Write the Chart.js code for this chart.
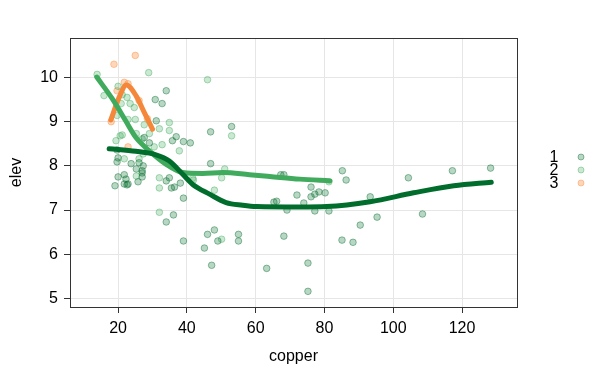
<!DOCTYPE html>
<html><head><meta charset="utf-8">
<script src="https://cdn.jsdelivr.net/npm/chart.js@4/dist/chart.umd.min.js"></script>
<style>html,body{margin:0;padding:0;background:#fff;}canvas{display:block;}</style>
</head><body>
<canvas id="c" width="603" height="379"></canvas>
<script>
// ---- data ----
const groups = ["1", "2", "3"];
const xTicks = [20, 40, 60, 80, 100, 120];
const yTicks = [5, 6, 7, 8, 9, 10];

const cu1 = [34.0,30.8,32.8,31.1,46.9,53.0,27.6,29.1,35.8,36.9,39.0,41.0,19.7,20.0,19.7,23.8,25.3,26.1,46.9,20.0,21.8,22.3,27.0,27.0,27.0,34.9,67.3,68.2,19.1,21.8,22.6,25.8,34.0,35.5,36.4,38.1,39.0,36.1,34.0,39.0,45.1,46.0,48.0,49.0,55.0,55.0,47.2,63.2,65.3,66.1,69.1,72.0,68.2,85.2,86.3,76.1,76.1,77.2,78.4,80.2,74.0,77.2,81.3,75.2,75.2,85.1,88.3,90.4,93.3,95.3,104.4,108.5,117.2,128.3,22.9,27.3];
const el1 = [9.70,9.50,9.41,9.02,8.77,8.89,8.64,8.52,8.57,8.66,8.55,8.52,8.36,8.18,8.09,8.05,7.93,8.07,8.05,7.75,7.80,7.70,7.84,7.75,7.89,7.73,7.80,7.80,7.55,7.59,7.57,7.64,7.66,7.50,7.52,7.61,7.27,6.89,6.73,6.30,6.14,6.45,6.55,6.30,6.45,6.30,5.75,5.68,7.18,7.20,7.00,7.34,6.41,7.89,7.68,7.52,7.30,7.36,7.41,7.39,7.16,6.98,6.98,5.80,5.16,6.32,6.27,6.66,7.30,6.84,7.73,6.91,7.89,7.95,7.59,8.00];

const cu2 = [13.9,28.9,46.0,20.0,15.9,21.2,23.5,20.9,22.6,24.7,32.0,34.9,34.9,53.0,19.7,22.9,25.0,27.6,29.1,21.2,20.6,25.3,27.0,30.5,32.8,37.8,19.4,21.8,26.1,27.3,51.0,25.3,32.0,32.0,41.9,48.0,50.1,32.0,50.1,81.3,41.7];
const el2 = [10.07,10.11,9.95,9.80,9.59,9.61,9.41,9.41,9.55,9.32,8.84,8.98,8.80,8.68,9.14,9.05,9.05,8.93,8.73,8.70,8.68,8.73,8.61,8.43,8.48,8.34,8.57,8.16,8.16,8.27,7.93,7.77,7.73,7.50,7.68,7.45,7.73,6.95,6.34,7.64,7.72];

const cu3 = [18.8,25.0,21.8,22.9,19.7,18.0,22.9,26.1,28.5];
const el3 = [10.30,10.50,9.89,9.86,9.70,9.00,8.43,9.48,9.07];

// smooth (loess) curves
const sm1x = [17.4,25.2,31.0,34.9,38.8,41.7,46.6,51.4,56.2,60.2,72.8,80.6,93.3,105.9,117.6,128.5];
const sm1y = [8.39,8.33,8.25,8.11,7.81,7.58,7.36,7.17,7.11,7.08,7.07,7.08,7.19,7.39,7.55,7.63];
const sm2x = [13.8,18.3,22.2,25.2,29.1,33.9,38.8,44.6,50.5,58.2,64.1,72.8,81.6];
const sm2y = [10.01,9.52,9.02,8.64,8.34,8.04,7.85,7.83,7.85,7.80,7.76,7.70,7.66];
const sm3x = [17.9,20.3,22.4,25.2,27.6,30.0];
const sm3y = [9.04,9.55,9.83,9.59,9.21,8.83];

// ---- build ----
const pts = (xs, ys) => xs.map((x, i) => ({x: x, y: ys[i]}));
const lineCol = ["#006d2c", "#41ab5d", "#f4873a"];
const ptFill = ["rgba(0,109,44,0.28)", "rgba(65,171,93,0.28)", "rgba(253,141,60,0.35)"];
const ptBorder = ["rgba(0,109,44,0.42)", "rgba(65,171,93,0.42)", "rgba(253,141,60,0.45)"];
const rawX = [cu1, cu2, cu3], rawY = [el1, el2, el3];
const smX = [sm1x, sm2x, sm3x], smY = [sm1y, sm2y, sm3y];

const datasets = [];
groups.forEach((g, i) => {
  datasets.push({
    type: 'scatter', label: g, data: pts(rawX[i], rawY[i]), order: 2,
    pointRadius: 3.3, backgroundColor: ptFill[i], borderColor: ptBorder[i], borderWidth: 1
  });
});
groups.forEach((g, i) => {
  datasets.push({
    type: 'line', label: 'smooth ' + g, data: pts(smX[i], smY[i]), order: 1,
    showLine: true, pointRadius: 0, borderColor: lineCol[i], borderWidth: 5,
    borderCapStyle: 'round', borderJoinStyle: 'round', tension: 0.4, cubicInterpolationMode: 'monotone', fill: false
  });
});

const FONT = {family: "'Liberation Sans', Arial, sans-serif", size: 16};

const frame = {
  id: 'frame',
  afterDraw(chart) {
    const {ctx, chartArea: a} = chart;
    ctx.save();
    ctx.strokeStyle = '#333';
    ctx.lineWidth = 1;
    ctx.strokeRect(Math.round(a.left) + 0.5, Math.round(a.top) + 0.5, Math.round(a.right - a.left), Math.round(a.bottom - a.top));
    // legend
    ctx.font = "16px 'Liberation Sans', Arial, sans-serif";
    ctx.fillStyle = '#000';
    ctx.textAlign = 'center';
    ctx.textBaseline = 'middle';
    groups.forEach((g, i) => {
      const y = 157 + i * 13;
      ctx.fillStyle = '#000';
      ctx.fillText(g, 554, y + 1);
      ctx.beginPath();
      ctx.arc(581, y, 3, 0, Math.PI * 2);
      ctx.fillStyle = ptFill[i];
      ctx.fill();
      ctx.strokeStyle = ptBorder[i];
      ctx.stroke();
    });
    ctx.restore();
  }
};

new Chart(document.getElementById('c'), {
  type: 'scatter',
  data: {datasets},
  options: {
    responsive: false, animation: false,
    layout: {padding: {top: 38, right: 86, left: 0, bottom: 0}},
    plugins: {legend: {display: false}, tooltip: {enabled: false}},
    scales: {
      x: {
        type: 'linear', min: 6.02, max: 135.98,
        afterFit(s) { s.height = 72; },
        afterBuildTicks(s) { s.ticks = xTicks.map(v => ({value: v})); },
        ticks: {font: FONT, color: '#000', padding: 6, maxRotation: 0, includeBounds: false},
        grid: {color: '#e6e6e6', lineWidth: 1, tickColor: '#333', tickLength: 6},
        border: {display: false},
        title: {display: true, text: 'copper', font: FONT, color: '#000', padding: {top: 0, bottom: 13}}
      },
      y: {
        type: 'linear', min: 4.806, max: 10.894,
        afterFit(s) { s.width = 70; },
        afterBuildTicks(s) { s.ticks = yTicks.map(v => ({value: v})); },
        ticks: {font: FONT, color: '#000', padding: 6, includeBounds: false},
        grid: {color: '#e6e6e6', lineWidth: 1, tickColor: '#333', tickLength: 6},
        border: {display: false},
        title: {display: true, text: 'elev', font: FONT, color: '#000', padding: {top: 7, bottom: 0}}
      }
    }
  },
  plugins: [frame]
});
</script>
</body></html>
